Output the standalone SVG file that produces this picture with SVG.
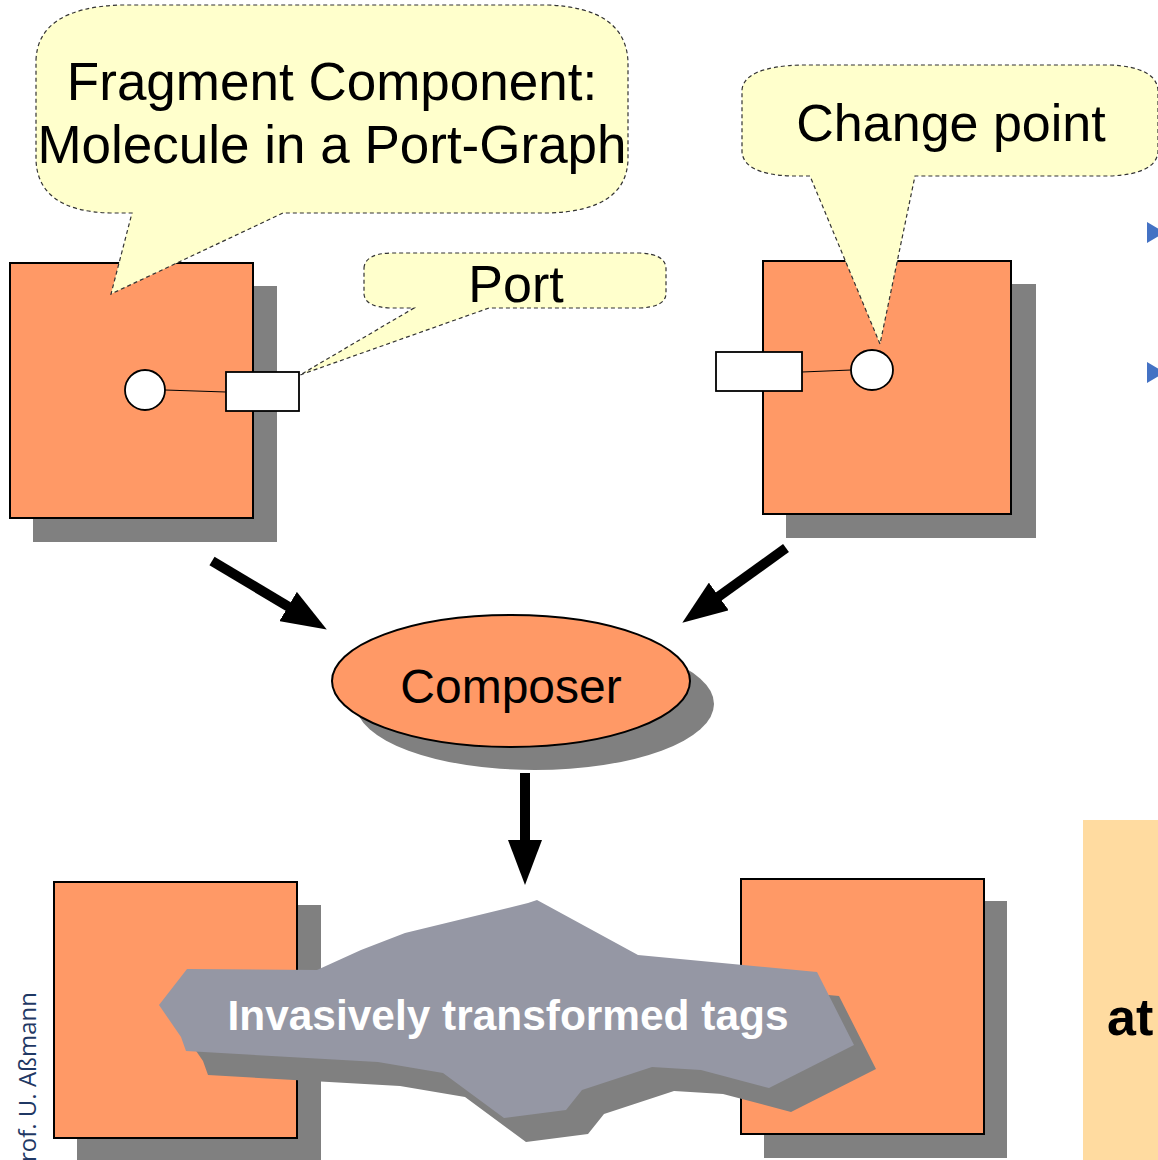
<svg xmlns="http://www.w3.org/2000/svg" width="1158" height="1160" viewBox="0 0 1158 1160">
<defs>
<style>
.shadow{fill:#808080;stroke:none}
.box{fill:#FF9966;stroke:#000;stroke-width:2}
.callout{fill:#FFFFCC;stroke:#333;stroke-width:1.2;stroke-dasharray:4 3}
.port{fill:#fff;stroke:#000;stroke-width:1.8}
.wire{stroke:#000;stroke-width:1.2;fill:none}
.lbl{font-family:"Liberation Sans",Arial,sans-serif;fill:#000;text-anchor:middle}
.conn{stroke:#000;stroke-width:10;fill:none;marker-end:url(#head)}
.star{fill:#9597A4}
.bullet{fill:#4472C4}
</style>
<marker id="head" markerUnits="userSpaceOnUse" markerWidth="46" markerHeight="34" refX="1" refY="17" orient="auto">
<path d="M0,0 L45,17 L0,34 Z" fill="#000"/>
</marker>
</defs>
<rect width="1158" height="1160" fill="#fff"/>

<g id="component-left">
<rect class="shadow" x="33" y="286" width="244" height="256"/>
<rect class="box" x="10" y="263" width="243" height="255"/>
<line class="wire" x1="165" y1="390" x2="226" y2="392"/>
<ellipse class="port" cx="145" cy="390" rx="20" ry="20"/>
<rect class="port" x="226" y="372" width="73" height="39"/>
</g>

<g id="component-right">
<rect class="shadow" x="786" y="284" width="250" height="254"/>
<rect class="box" x="763" y="261" width="248" height="253"/>
<line class="wire" x1="802" y1="372" x2="851" y2="370"/>
<ellipse class="port" cx="872" cy="370" rx="21" ry="20"/>
<rect class="port" x="716" y="352" width="86" height="39"/>
</g>

<g id="callout-fragment">
<path class="callout" d="M36,60 Q38,8 120,5 L548,5 Q626,8 628,62 L628,160 Q626,211 548,213 L283,213 L111,294 L132,213 L110,213 Q38,211 36,160 Z"/>
<text class="lbl" x="332" y="100" font-size="53">Fragment Component:</text>
<text class="lbl" x="332" y="163" font-size="53">Molecule in a Port-Graph</text>
</g>

<g id="callout-port">
<path class="callout" d="M364,268 Q365,254 390,253 L640,253 Q665,254 666,268 L666,294 Q665,307 640,308 L489,308 L300,375 L414,308 L390,308 Q365,307 364,294 Z"/>
<text class="lbl" x="516" y="302" font-size="52">Port</text>
</g>

<g id="callout-change">
<path class="callout" d="M742,90 Q744,67 800,65 L1110,65 Q1156,67 1158,90 L1158,152 Q1156,174 1110,176 L915,176 L880,344 L810,176 L790,176 Q744,174 742,152 Z"/>
<text class="lbl" x="951" y="141" font-size="52">Change point</text>
</g>

<g id="composer">
<ellipse class="shadow" cx="535" cy="704" rx="179" ry="66"/>
<ellipse class="box" cx="511" cy="681" rx="179" ry="66" stroke-width="1.8"/>
<text class="lbl" x="511" y="703" font-size="48">Composer</text>
</g>

<g id="result-left">
<rect class="shadow" x="77" y="905" width="244" height="260"/>
<rect class="box" x="54" y="882" width="243" height="256"/>
</g>

<g id="result-right">
<rect class="shadow" x="764" y="901" width="243" height="257"/>
<rect class="box" x="741" y="879" width="243" height="255"/>
</g>

<g id="transformed-tags">
<polygon class="shadow" transform="translate(22,24)" points="537,900 638,955 817,972 854,1045 769,1088 701,1070 652,1067 582,1090 566,1110 504,1118 443,1073 378,1062 186,1051 181,1037 159,1005 187,969 317,970 361,950 405,933 528,903"/>
<polygon class="star" points="537,900 638,955 817,972 854,1045 769,1088 701,1070 652,1067 582,1090 566,1110 504,1118 443,1073 378,1062 186,1051 181,1037 159,1005 187,969 317,970 361,950 405,933 528,903"/>
<text class="lbl" x="508" y="1030" font-size="43" font-weight="bold" style="fill:#fff" textLength="561" lengthAdjust="spacingAndGlyphs">Invasively transformed tags</text>
</g>

<g id="connectors">
<line class="conn" x1="212" y1="561" x2="289" y2="607"/>
<line class="conn" x1="786" y1="548" x2="718" y2="597"/>
<line class="conn" x1="525" y1="773" x2="525" y2="841"/>
</g>

<g id="side-panel">
<rect x="1083" y="820" width="80" height="345" fill="#FFDBA0"/>
<text x="1107" y="1035" font-family="'Liberation Sans',Arial,sans-serif" font-size="52" font-weight="bold" fill="#000">at</text>
<polygon class="bullet" points="1147,222 1147,243 1165,232.5"/>
<polygon class="bullet" points="1147,362 1147,383 1165,372.5"/>
</g>

<text transform="translate(36,992) rotate(-90)" text-anchor="end" font-family="'Open Sans','Noto Sans',sans-serif" font-size="24" fill="#1F3864">rof. U. Aßmann</text>
</svg>
